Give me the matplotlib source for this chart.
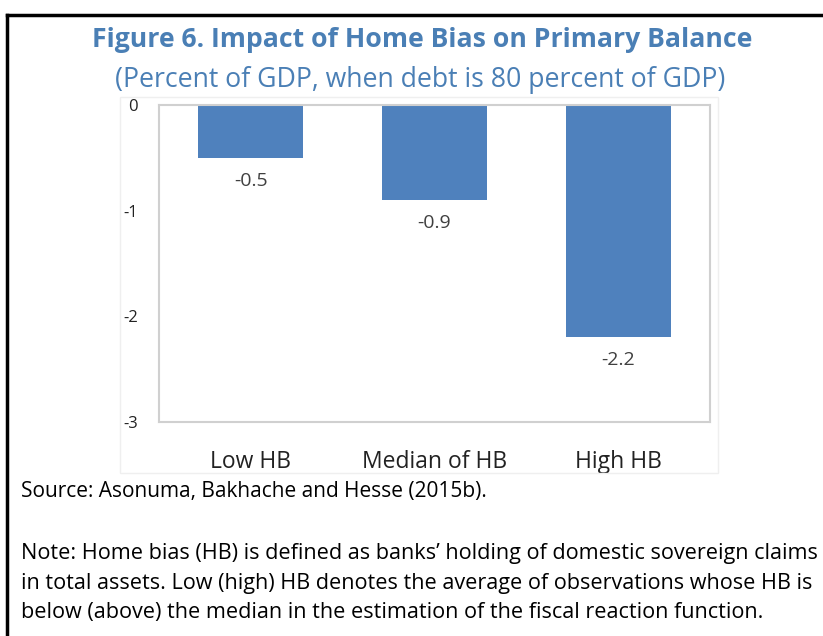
import matplotlib.pyplot as plt
from matplotlib.patches import Rectangle
from matplotlib.lines import Line2D

# data
categories = ["Low HB", "Median of HB", "High HB"]
values = [-0.5, -0.9, -2.2]
yticks = [0, -1, -2, -3]

title = "Figure 6. Impact of Home Bias on Primary Balance"
subtitle = "(Percent of GDP, when debt is 80 percent of GDP)"
source = "Source: Asonuma, Bakhache and Hesse (2015b)."
note = ("Note: Home bias (HB) is defined as banks\u2019 holding of domestic sovereign claims\n"
        "in total assets. Low (high) HB denotes the average of observations whose HB is\n"
        "below (above) the median in the estimation of the fiscal reaction function.")

W, H = 823, 636
fig = plt.figure(figsize=(W / 100, H / 100), dpi=100)
plt.rcParams['font.family'] = ['Open Sans', 'DejaVu Sans']

# outer black frame (top and left only visible)
fig.add_artist(Line2D([7 / W, 7 / W], [0, 1 - 15 / H], color='black', lw=2.5))
fig.add_artist(Line2D([7 / W, 1], [1 - 15 / H, 1 - 15 / H], color='black', lw=2.5))

# faint chart-area frame
fig.add_artist(Rectangle((120 / W, 1 - 473 / H), (718 - 120) / W, (473 - 97) / H,
                         fill=False, edgecolor='#efefef', lw=1))

blue = '#4a7fb5'
fig.text(422 / W, 1 - 40 / H, title, ha='center', va='center',
         fontsize=19.2, fontweight='bold', color=blue)
fig.text(420 / W, 1 - 80 / H, subtitle, ha='center', va='center',
         fontsize=19.2, color=blue)

ax = fig.add_axes([159 / W, 1 - 422 / H, (710 - 159) / W, (422 - 105) / H])
x = range(len(categories))
bars = ax.bar(x, values, width=0.57, color='#4f81bd')
ax.set_xlim(-0.5, 2.5)
ax.set_ylim(-3, 0)
ax.set_yticks(yticks)
ax.set_yticklabels([str(t) for t in yticks], fontsize=12, color='#222222')
ax.tick_params(axis='y', length=0, pad=15)
ax.tick_params(axis='x', length=0, pad=20)
ax.set_xticks(list(x))
ax.set_xticklabels(categories, fontsize=16.5, color='#222222')
for s in ax.spines.values():
    s.set_color('#d0d0d0')
    s.set_linewidth(1.5)

for b, v in zip(bars, values):
    ax.annotate(f"{v:.1f}", (b.get_x() + b.get_width() / 2, v),
                xytext=(0, -10), textcoords='offset points',
                ha='center', va='top', fontsize=14, color='#404040')

fig.text(21 / W, 1 - 492 / H, source, ha='left', va='center', fontsize=15)
fig.text(21 / W, 1 - 583 / H, note, ha='left', va='center', fontsize=15.6,
         linespacing=1.54)

fig.savefig("out.png", dpi=100)
